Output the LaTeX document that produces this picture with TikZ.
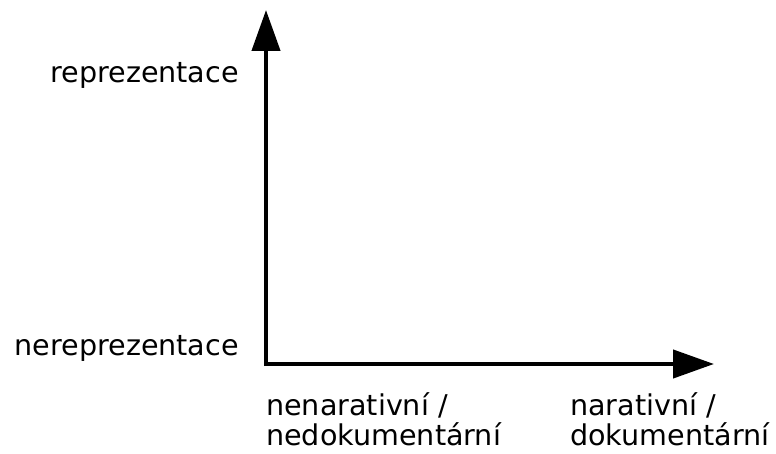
\documentclass[tikz,border=0pt]{standalone}
\usepackage{fontspec}
\setmainfont{DejaVu Sans}
\usetikzlibrary{arrows.meta}
\begin{document}
\begin{tikzpicture}[x=1pt,y=-1pt,
  axis/.style={line width=4.3pt,-{Triangle[length=41pt,width=28pt]}},
  lbl/.style={font=\fontsize{28.6}{30}\selectfont,inner sep=0pt},
  lblr/.style={lbl,anchor=base east},
  lbll/.style={lbl,anchor=base west,align=left}]
\useasboundingbox (0,0) rectangle (776,454);
\coordinate (o) at (266,364);
\coordinate (ytip) at (266,10);
\coordinate (xtip) at (714,364);
\draw[axis] (266,366) -- (ytip);
\draw[axis] (264,364) -- (xtip);
\node[lblr] (rep) at (239,83) {reprezentace};
\node[lblr] (nrep) at (239,355) {nereprezentace};
\node[lbll] (nn) at (266,445) {nenarativní /\\nedokumentární};
\node[lbll] (n) at (570,445) {narativní /\\dokumentární};
\end{tikzpicture}
\end{document}
